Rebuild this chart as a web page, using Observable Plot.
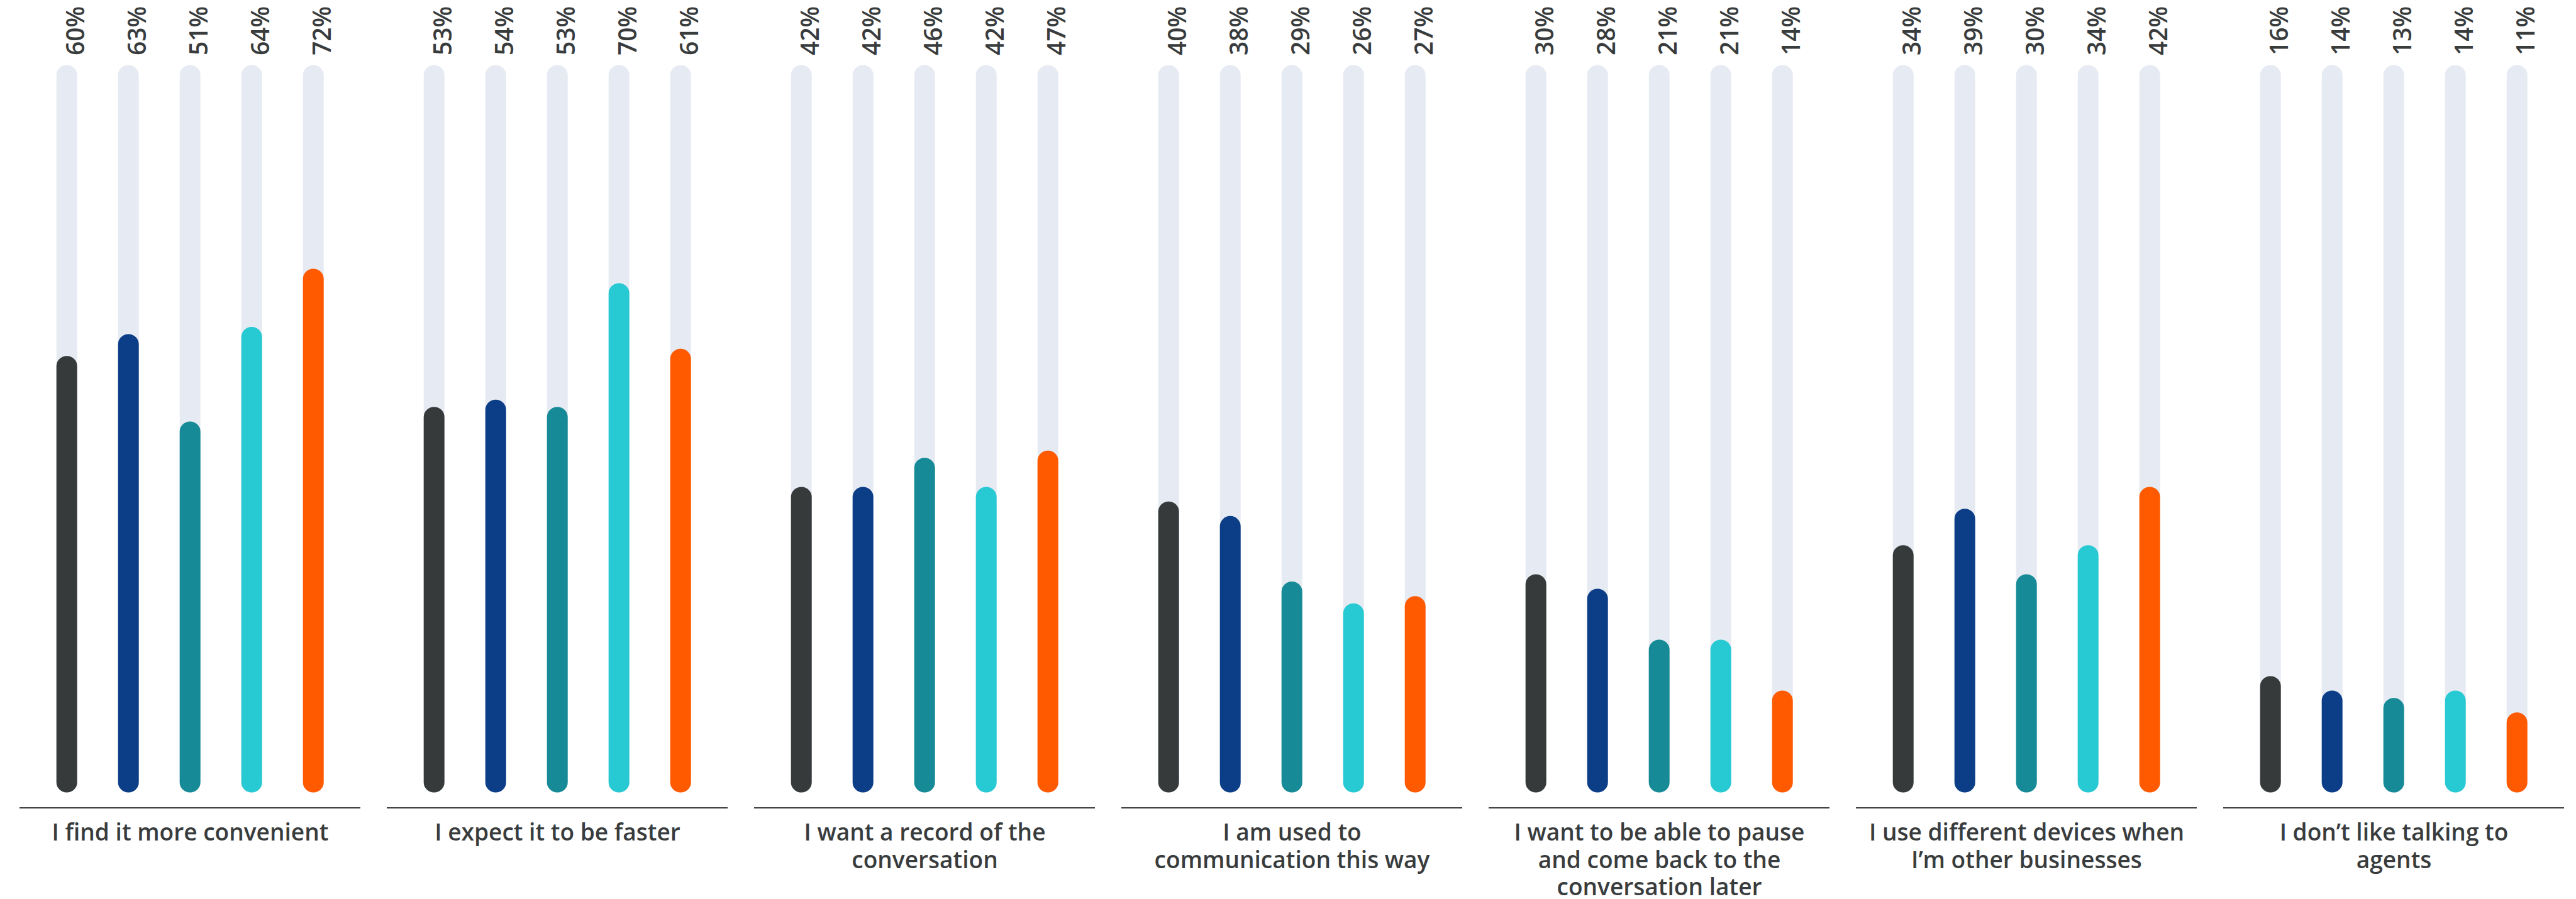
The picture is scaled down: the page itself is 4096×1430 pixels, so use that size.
<!DOCTYPE html>
<html>
<head>
<meta charset="utf-8">
<script src="https://cdn.jsdelivr.net/npm/d3@7"></script>
<script src="https://cdn.jsdelivr.net/npm/@observablehq/plot@0.6"></script>
<style>
  html, body { margin: 0; padding: 0; background: #ffffff; overflow: hidden; }
  #chart { width: 4096px; height: 1430px; }
</style>
</head>
<body>
<div id="chart"></div>
<script>
// Reasons for preferring messaging, by respondent segment (share of respondents, %)
const categories = [
  "I find it more convenient",
  "I expect it to be faster",
  "I want a record of the conversation",
  "I am used to communication this way",
  "I want to be able to pause and come back to the conversation later",
  "I use different devices when I’m other businesses",
  "I don’t like talking to agents"
];

// How each category label breaks onto lines beneath its group
const categoryLines = [
  "I find it more convenient",
  "I expect it to be faster",
  "I want a record of the\nconversation",
  "I am used to\ncommunication this way",
  "I want to be able to pause\nand come back to the\nconversation later",
  "I use different devices when\nI’m other businesses",
  "I don’t like talking to\nagents"
];

const segments = ["Segment 1", "Segment 2", "Segment 3", "Segment 4", "Segment 5"];

// One array per segment, in category order
const segment1 = [60, 53, 42, 40, 30, 34, 16];
const segment2 = [63, 54, 42, 38, 28, 39, 14];
const segment3 = [51, 53, 46, 29, 21, 30, 13];
const segment4 = [64, 70, 42, 26, 21, 34, 14];
const segment5 = [72, 61, 47, 27, 14, 42, 11];

const seriesValues = [segment1, segment2, segment3, segment4, segment5];

// Long table: one row per (category, segment)
const rows = [];
categories.forEach((category, ci) => {
  segments.forEach((segment, si) => {
    rows.push({category, segment, value: seriesValues[si][ci]});
  });
});

const labelRows = categories.map((category, i) => ({category, label: categoryLines[i]}));

const ink = "#393c3d";
const fontFamily = "'Open Sans', 'Noto Sans', sans-serif";

const chart = Plot.plot({
  width: 4096,
  height: 1430,
  marginTop: 103.4,
  marginBottom: 169.4,
  marginLeft: 28.3,
  marginRight: 16.3,
  style: {fontFamily, color: ink, background: "#ffffff", overflow: "visible"},
  fx: {domain: categories, paddingInner: 0.0718, paddingOuter: 0, axis: null, label: null},
  x: {domain: segments, paddingInner: 0.668, paddingOuter: 0.593, axis: null, label: null},
  y: {domain: [0, 100], axis: null, label: null},
  color: {domain: segments, range: ["#373a3b", "#0c3d87", "#168a96", "#27c9d3", "#ff5a00"]},
  marks: [
    // full-scale track behind each bar
    Plot.barY(rows, {fx: "category", x: "segment", y: () => 100, fill: "#e6eaf2", rx: 16.3}),
    // value bars
    Plot.barY(rows, {fx: "category", x: "segment", y: "value", fill: "segment", rx: 16.3}),
    // baseline under each group
    Plot.ruleY([0], {stroke: "#3a3d3e", strokeWidth: 2.2, dy: 23.9}),
    // rotated value labels above the tracks
    Plot.text(rows, {
      fx: "category", x: "segment", frameAnchor: "top",
      text: d => `${d.value}%`,
      rotate: -90, textAnchor: "start", dy: -15.9,
      fill: ink, fontSize: 39, fontWeight: 600
    }),
    // category labels beneath the baseline
    Plot.text(labelRows, {
      fx: "category", frameAnchor: "bottom", text: "label",
      lineAnchor: "top", lineHeight: 1.17, dy: 45.5,
      fill: ink, fontSize: 37.1, fontWeight: 600
    })
  ]
});

document.getElementById("chart").appendChild(chart);
</script>
</body>
</html>
